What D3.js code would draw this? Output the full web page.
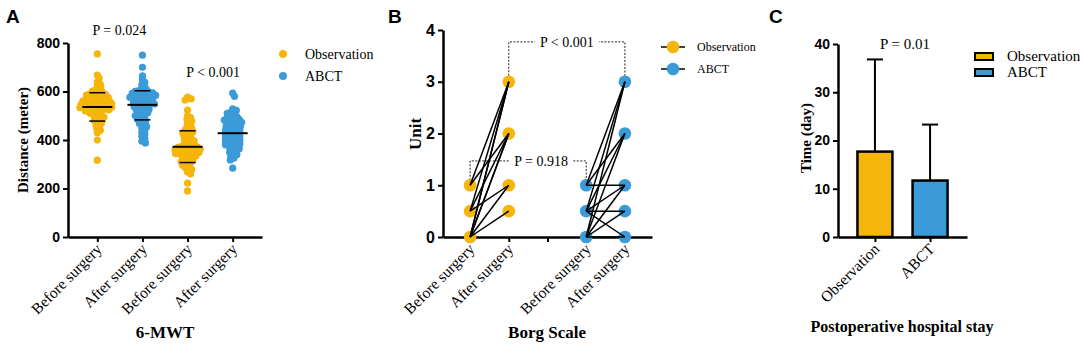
<!DOCTYPE html>
<html>
<head>
<meta charset="utf-8">
<script src="https://cdn.jsdelivr.net/npm/d3@7/dist/d3.min.js"></script>
<style>
    body { margin: 0; background: #fff; }
    .num { font-family: Arial, "Liberation Sans", sans-serif; font-weight: bold; font-size: 14px; fill: #000; }
    .ser { font-family: "Times New Roman", "Liberation Serif", serif; fill: #000; }
    .letter { font-family: Arial, "Liberation Sans", sans-serif; font-weight: bold; font-size: 19px; }
</style>
</head>
<body>
<div id="chart"></div>
<script>

// ---- data ----
var ORANGE = "#f5b50a", BLUE = "#3b9bd8";

// A: 6-minute walk test (meters)
var mwtGroups = ["obsBefore", "abctBefore", "obsAfter", "abctAfter"];
var mwtLabels = ["Before surgery", "After surgery", "Before surgery", "After surgery"];
var mwtTicks = [0, 200, 400, 600, 800];
var mwtObsBefore = [755, 668, 655, 640, 630, 622, 615, 608, 602, 598, 595, 592, 590, 587, 585, 583, 580, 578, 576, 574,
    572, 570, 568, 566, 564, 562, 560, 558, 556, 555, 553, 551, 550, 548, 547, 545, 543, 542, 540, 538, 537, 535, 533,
    532, 530, 528, 526, 524, 522, 520, 517, 514, 510, 506, 502, 498, 494, 490, 485, 480, 475, 470, 462, 455, 447, 440,
    430, 400, 317];
var mwtAbctBefore = [750, 700, 665, 650, 638, 628, 620, 612, 607, 604, 601, 598, 596, 594, 592, 590, 588, 586, 584, 582,
    580, 578, 576, 574, 572, 570, 567, 564, 561, 558, 555, 552, 550, 548, 545, 542, 540, 537, 534, 530, 527, 523, 520,
    516, 512, 508, 504, 500, 495, 490, 485, 480, 474, 468, 462, 455, 448, 440, 432, 424, 415, 405, 395, 388];
var mwtObsAfter = [577, 570, 565, 523, 500, 492, 485, 478, 470, 462, 455, 448, 442, 438, 434, 430, 425, 420, 415, 410,
    405, 400, 396, 392, 388, 384, 380, 377, 374, 372, 370, 368, 366, 364, 362, 360, 358, 356, 354, 352, 350, 348, 346,
    344, 342, 340, 337, 334, 330, 326, 322, 318, 314, 310, 305, 300, 295, 290, 284, 278, 268, 260, 222, 190];
var mwtAbctAfter = [593, 580, 528, 522, 515, 510, 505, 500, 496, 492, 488, 485, 482, 479, 476, 473, 470, 467, 464, 461,
    458, 455, 452, 449, 446, 443, 440, 437, 434, 431, 428, 425, 422, 419, 416, 413, 410, 407, 404, 401, 398, 395, 392,
    389, 386, 383, 380, 376, 372, 368, 364, 360, 355, 350, 345, 340, 333, 325, 318, 284];
var mwtMedian = [536, 545, 372, 428];
var mwtQ3 = [595, 603, 438, null];
var mwtQ1 = [478, 483, 307, null];
var mwtColors = [ORANGE, BLUE, ORANGE, BLUE];

// B: Borg scale, paired before -> after
var borgGroups = ["obsBefore", "obsAfter", "gap", "abctBefore", "abctAfter"];
var borgLabels = ["Before surgery", "After surgery", "", "Before surgery", "After surgery"];
var borgTicks = [0, 1, 2, 3, 4];
var borgObsPairs = [[0, 3], [0, 3], [0, 2], [0, 2], [0, 1], [0, 0.5], [0.5, 3], [0.5, 2], [0.5, 1], [1, 3], [1, 2]];
var borgAbctPairs = [[0, 3], [0, 2], [0, 1], [0, 0.5], [0, 0], [0.5, 3], [0.5, 2], [0.5, 1], [0.5, 0.5], [0.5, 0],
    [1, 3], [1, 2], [1, 1]];

// C: postoperative hospital stay (days)
var stayGroups = ["Observation", "ABCT"];
var stayMean = [17.7, 11.7];
var stayUpper = [36.8, 23.3];
var stayTicks = [0, 10, 20, 30, 40];

var legendNames = ["Observation", "ABCT"];
var legendColors = [ORANGE, BLUE];

// ---- drawing ----
var svg = d3.select("#chart").append("svg")
    .attr("width", 1084)
    .attr("height", 353);

svg.append("rect").attr("width", 1084).attr("height", 353).attr("fill", "#fff");

function styleAxis(g) {
    g.select(".domain").attr("stroke", "#000").attr("stroke-width", 2.5);
    g.selectAll(".tick line").attr("stroke", "#000").attr("stroke-width", 2);
    g.selectAll(".tick text").attr("class", "num").attr("font-family", null).attr("font-size", null);
}

function xLabels(g, labels, size) {
    g.selectAll(".tick text").remove();
    g.selectAll(".tick").append("text")
        .attr("class", "ser")
        .style("font-size", size + "px")
        .attr("text-anchor", "end")
        .attr("transform", "translate(5,13) rotate(-45)")
        .text(function(d, i) { return labels[i]; });
}

// beeswarm offsets (layout only, values come from the arrays above)
function swarm(values, y, minDist) {
    var placed = [];
    var sorted = values.slice().sort(function(a, b) { return b - a; });
    return sorted.map(function(v) {
        var cy = y(v), dx = 0;
        for (var k = 0; k < 80; k++) {
            var off = (k % 2 ? 1 : -1) * Math.ceil(k / 2) * 0.6;
            var ok = placed.every(function(p) { return Math.hypot(p.dx - off, p.cy - cy) >= minDist; });
            if (ok) { dx = off; break; }
        }
        var p = {v: v, cy: cy, dx: dx};
        placed.push(p);
        return p;
    });
}

// ================= Panel A =================
(function() {
    var g = svg.append("g");
    var x = d3.scalePoint().domain(mwtGroups).range([68, 262]).padding(0.65);
    var y = d3.scaleLinear().domain([0, 800]).range([237, 43]);
    var series = [mwtObsBefore, mwtAbctBefore, mwtObsAfter, mwtAbctAfter];

    g.append("text").attr("class", "letter").attr("x", 6).attr("y", 23).text("A");

    g.append("g").attr("transform", "translate(68,0)")
        .call(d3.axisLeft(y).tickValues(mwtTicks).tickSize(5).tickPadding(3).tickSizeOuter(0))
        .call(styleAxis);

    g.append("g").attr("transform", "translate(0,237)")
        .call(d3.axisBottom(x).tickSize(5).tickSizeOuter(0))
        .call(styleAxis)
        .call(xLabels, mwtLabels, 15.5);

    series.forEach(function(vals, i) {
        var cx = x(mwtGroups[i]);
        g.append("g").selectAll("circle")
            .data(swarm(vals, y, 3.5))
            .enter().append("circle")
            .attr("cx", function(d) { return cx + d.dx; })
            .attr("cy", function(d) { return d.cy; })
            .attr("r", 3.6)
            .attr("fill", mwtColors[i]);

        g.append("line").attr("x1", cx - 15).attr("x2", cx + 15)
            .attr("y1", y(mwtMedian[i])).attr("y2", y(mwtMedian[i]))
            .attr("stroke", "#000").attr("stroke-width", 2);
        [mwtQ3[i], mwtQ1[i]].forEach(function(q) {
            if (q === null) return;
            g.append("line").attr("x1", cx - 8).attr("x2", cx + 8)
                .attr("y1", y(q)).attr("y2", y(q))
                .attr("stroke", "#000").attr("stroke-width", 1.5);
        });
    });

    g.append("text").attr("class", "ser").style("font-size", "14px")
        .attr("text-anchor", "middle")
        .attr("x", (x(mwtGroups[0]) + x(mwtGroups[1])) / 2 - 0.5).attr("y", 35)
        .text("P = 0.024");
    g.append("text").attr("class", "ser").style("font-size", "14px")
        .attr("text-anchor", "middle")
        .attr("x", (x(mwtGroups[2]) + x(mwtGroups[3])) / 2 + 3).attr("y", 77)
        .text("P < 0.001");

    g.append("text").attr("class", "ser").style("font-size", "15px").style("font-weight", "bold")
        .attr("text-anchor", "middle")
        .attr("transform", "translate(28,140) rotate(-90)")
        .text("Distance (meter)");

    g.append("text").attr("class", "ser").style("font-size", "17px").style("font-weight", "bold")
        .attr("text-anchor", "middle").attr("x", 165).attr("y", 338)
        .text("6-MWT");

    var leg = g.selectAll(".legA").data(legendNames).enter().append("g")
        .attr("transform", function(d, i) { return "translate(283," + (54 + i * 22) + ")"; });
    leg.append("circle").attr("r", 4).attr("fill", function(d, i) { return legendColors[i]; });
    leg.append("text").attr("class", "ser").style("font-size", "14px")
        .attr("x", 22).attr("y", 5).text(function(d) { return d; });
})();

// ================= Panel B =================
(function() {
    var g = svg.append("g");
    var x = d3.scalePoint().domain(borgGroups).range([443, 652]).padding(0.7);
    var y = d3.scaleLinear().domain([0, 4]).range([237, 30]);

    g.append("text").attr("class", "letter").attr("x", 388).attr("y", 23).text("B");

    g.append("g").attr("transform", "translate(443,0)")
        .call(d3.axisLeft(y).tickValues(borgTicks).tickFormat(d3.format("d")).tickSize(5).tickPadding(3).tickSizeOuter(0))
        .call(styleAxis)
        .selectAll(".tick text").style("font-size", "16px");

    g.append("g").attr("transform", "translate(0,237)")
        .call(d3.axisBottom(x).tickSize(5).tickSizeOuter(0))
        .call(styleAxis)
        .call(xLabels, borgLabels, 15.5);

    // dotted brackets
    function bracket(xa, xb, ya, yb, yTop, label, tx) {
        var path = d3.path();
        path.moveTo(xa, ya); path.lineTo(xa, yTop); path.lineTo(xb, yTop); path.lineTo(xb, yb);
        g.append("path").attr("d", path.toString()).attr("fill", "none")
            .attr("stroke", "#222").attr("stroke-width", 1).attr("stroke-dasharray", "2,1.5");
        var t = g.append("text").attr("class", "ser").style("font-size", "14px")
            .attr("text-anchor", "middle").attr("x", tx).attr("y", yTop + 5).text(label);
        var bb = t.node().getBBox();
        g.append("rect")
            .attr("x", bb.x - 5).attr("y", yTop - 2).attr("width", bb.width + 10).attr("height", 4)
            .attr("fill", "#fff");
        t.raise();
    }
    bracket(x("obsAfter"), x("abctAfter"), y(3) - 6, y(3) - 6, y(3.77), "P < 0.001",
        (x("obsAfter") + x("abctAfter")) / 2);
    bracket(x("obsBefore"), x("abctBefore"), y(1) - 5, y(1) - 5, y(1.47), "P = 0.918",
        (x("obsBefore") + x("abctBefore")) / 2 + 13);

    var sets = [
        {pairs: borgObsPairs, a: "obsBefore", b: "obsAfter", color: ORANGE},
        {pairs: borgAbctPairs, a: "abctBefore", b: "abctAfter", color: BLUE}
    ];
    sets.forEach(function(s) {
        var before = Array.from(new Set(s.pairs.map(function(d) { return d[0]; })));
        var after = Array.from(new Set(s.pairs.map(function(d) { return d[1]; })));
        var pts = before.map(function(v) { return [s.a, v]; }).concat(after.map(function(v) { return [s.b, v]; }));
        g.append("g").selectAll("circle").data(pts).enter().append("circle")
            .attr("cx", function(d) { return x(d[0]); })
            .attr("cy", function(d) { return y(d[1]); })
            .attr("r", 6.3)
            .attr("fill", s.color);
    });
    sets.forEach(function(s) {
        g.append("g").selectAll("line").data(s.pairs).enter().append("line")
            .attr("x1", x(s.a)).attr("x2", x(s.b))
            .attr("y1", function(d) { return y(d[0]); })
            .attr("y2", function(d) { return y(d[1]); })
            .attr("stroke", "#000").attr("stroke-width", 1.5);
    });

    g.append("text").attr("class", "ser").style("font-size", "17px").style("font-weight", "bold")
        .attr("text-anchor", "middle")
        .attr("transform", "translate(421,134) rotate(-90)")
        .text("Unit");

    g.append("text").attr("class", "ser").style("font-size", "17px").style("font-weight", "bold")
        .attr("text-anchor", "middle").attr("x", 547).attr("y", 338)
        .text("Borg Scale");

    var leg = g.selectAll(".legB").data(legendNames).enter().append("g")
        .attr("transform", function(d, i) { return "translate(673," + (47 + i * 22) + ")"; });
    leg.append("line").attr("x1", -12).attr("x2", 12).attr("stroke", "#000").attr("stroke-width", 1.5);
    leg.append("circle").attr("r", 6.3).attr("fill", function(d, i) { return legendColors[i]; });
    leg.append("text").attr("class", "ser").style("font-size", "12px")
        .attr("x", 24).attr("y", 4).text(function(d) { return d; });
})();

// ================= Panel C =================
(function() {
    var g = svg.append("g");
    var x = d3.scalePoint().domain(stayGroups).range([838, 967]).padding(0.67);
    var y = d3.scaleLinear().domain([0, 40]).range([237, 44]);
    var bw = 35;

    g.append("text").attr("class", "letter").attr("x", 769).attr("y", 23).text("C");

    // error whiskers behind bars
    stayGroups.forEach(function(k, i) {
        g.append("line").attr("x1", x(k)).attr("x2", x(k))
            .attr("y1", y(stayMean[i])).attr("y2", y(stayUpper[i]))
            .attr("stroke", "#000").attr("stroke-width", 2);
        g.append("line").attr("x1", x(k) - 8).attr("x2", x(k) + 8)
            .attr("y1", y(stayUpper[i])).attr("y2", y(stayUpper[i]))
            .attr("stroke", "#000").attr("stroke-width", 2);
    });

    g.selectAll(".bar").data(stayMean).enter().append("rect")
        .attr("x", function(d, i) { return x(stayGroups[i]) - bw / 2; })
        .attr("y", function(d) { return y(d); })
        .attr("width", bw)
        .attr("height", function(d) { return y(0) - y(d); })
        .attr("fill", function(d, i) { return legendColors[i]; })
        .attr("stroke", "#000").attr("stroke-width", 2.5);

    g.append("g").attr("transform", "translate(838,0)")
        .call(d3.axisLeft(y).tickValues(stayTicks).tickSize(5).tickPadding(3).tickSizeOuter(0))
        .call(styleAxis);

    g.append("g").attr("transform", "translate(0,237)")
        .call(d3.axisBottom(x).tickSize(5).tickSizeOuter(0))
        .call(styleAxis)
        .call(xLabels, stayGroups, 15.5);

    g.append("text").attr("class", "ser").style("font-size", "15px")
        .attr("text-anchor", "middle").attr("x", 905).attr("y", 49)
        .text("P = 0.01");

    g.append("text").attr("class", "ser").style("font-size", "15px").style("font-weight", "bold")
        .attr("text-anchor", "middle")
        .attr("transform", "translate(811,138) rotate(-90)")
        .text("Time (day)");

    g.append("text").attr("class", "ser").style("font-size", "16px").style("font-weight", "bold")
        .attr("text-anchor", "middle").attr("x", 902).attr("y", 332)
        .text("Postoperative hospital stay");

    var leg = g.selectAll(".legC").data(legendNames).enter().append("g")
        .attr("transform", function(d, i) { return "translate(975," + (53 + i * 16) + ")"; });
    leg.append("rect").attr("width", 18).attr("height", 7)
        .attr("fill", function(d, i) { return legendColors[i]; })
        .attr("stroke", "#000").attr("stroke-width", 2);
    leg.append("text").attr("class", "ser").style("font-size", "15px")
        .attr("x", 32).attr("y", 8).text(function(d) { return d; });
})();

</script>
</body>
</html>
